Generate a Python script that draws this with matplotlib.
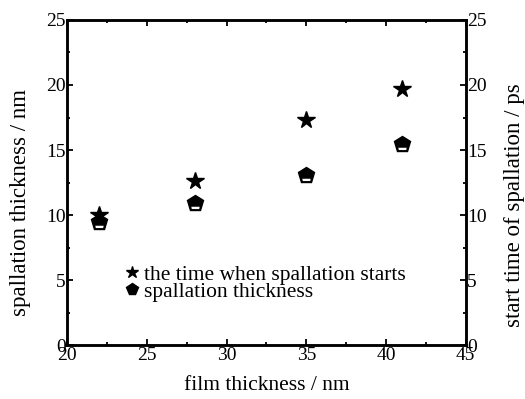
import numpy as np
import matplotlib.pyplot as plt
from matplotlib.path import Path
from matplotlib.ticker import MultipleLocator

plt.rcParams['font.family'] = ['Liberation Serif', 'DejaVu Serif']

# film thickness (nm)
film_thickness = [22, 28, 35, 41]
# start time of spallation (ps) - stars
start_time = [10.0, 12.6, 17.3, 19.7]
# spallation thickness (nm) - pentagons
spall_thickness = [9.5, 10.9, 13.1, 15.5]

# small white sliver in the lower part of the pentagon marker
sliver = Path([(-0.45, -0.35), (0.45, -0.35), (0.4, -0.6), (-0.4, -0.6), (-0.45, -0.35)],
              [Path.MOVETO, Path.LINETO, Path.LINETO, Path.LINETO, Path.CLOSEPOLY])

fig, ax = plt.subplots(figsize=(5.25, 3.99), dpi=100)
fig.subplots_adjust(left=0.128, right=0.887, top=0.95, bottom=0.135)

ax2 = ax.twinx()

ax2.plot(film_thickness, start_time, linestyle='none', marker='*', markersize=13,
         color='black', label='the time when spallation starts')
ax.plot(film_thickness, spall_thickness, linestyle='none', marker='p', markersize=12,
        color='black', markeredgewidth=1, label='spallation thickness')
ax.plot(film_thickness, spall_thickness, linestyle='none', marker=sliver, markersize=8,
        color='white', markeredgewidth=0)

ax.set_xlim(20, 45)
ax.set_ylim(0, 25)
ax2.set_ylim(0, 25)

ax.xaxis.set_major_locator(MultipleLocator(5))
ax.xaxis.set_minor_locator(MultipleLocator(2.5))
for a in (ax, ax2):
    a.yaxis.set_major_locator(MultipleLocator(5))
    a.yaxis.set_minor_locator(MultipleLocator(2.5))
    a.tick_params(which='both', direction='in', labelsize=14, width=1.3)
    a.tick_params(which='major', length=4)
    a.tick_params(which='minor', length=2.5)
    for s in a.spines.values():
        s.set_linewidth(1.8)
ax.tick_params(which='both', top=True, right=False, pad=1)
ax2.tick_params(which='both', left=False, right=True, pad=1)

ax.set_xlabel('film thickness / nm', fontsize=15.5)
ax.set_ylabel('spallation thickness / nm', fontsize=16.5)
ax2.set_ylabel('start time of spallation / ps', fontsize=16.5)
ax.xaxis.set_label_coords(0.5, -0.095)
ax.yaxis.set_label_coords(-0.092, 0.44)
ax2.yaxis.set_label_coords(1.095, 0.43)

h1, l1 = ax2.get_legend_handles_labels()
h2, l2 = ax.get_legend_handles_labels()
ax2.legend(h1 + h2, l1 + l2, loc='lower left', bbox_to_anchor=(0.125, 0.1),
           frameon=False, fontsize=15.5, handlelength=0.4, handletextpad=0.35,
           labelspacing=-0.15, borderpad=0, markerscale=0.7)

# raise the "0" labels above the corner as in the original
fig.canvas.draw()
ax.yaxis.get_major_ticks()[0].label1.set_verticalalignment('bottom')
ax2.yaxis.get_major_ticks()[0].label2.set_verticalalignment('bottom')

fig.savefig('out.png', dpi=100)
